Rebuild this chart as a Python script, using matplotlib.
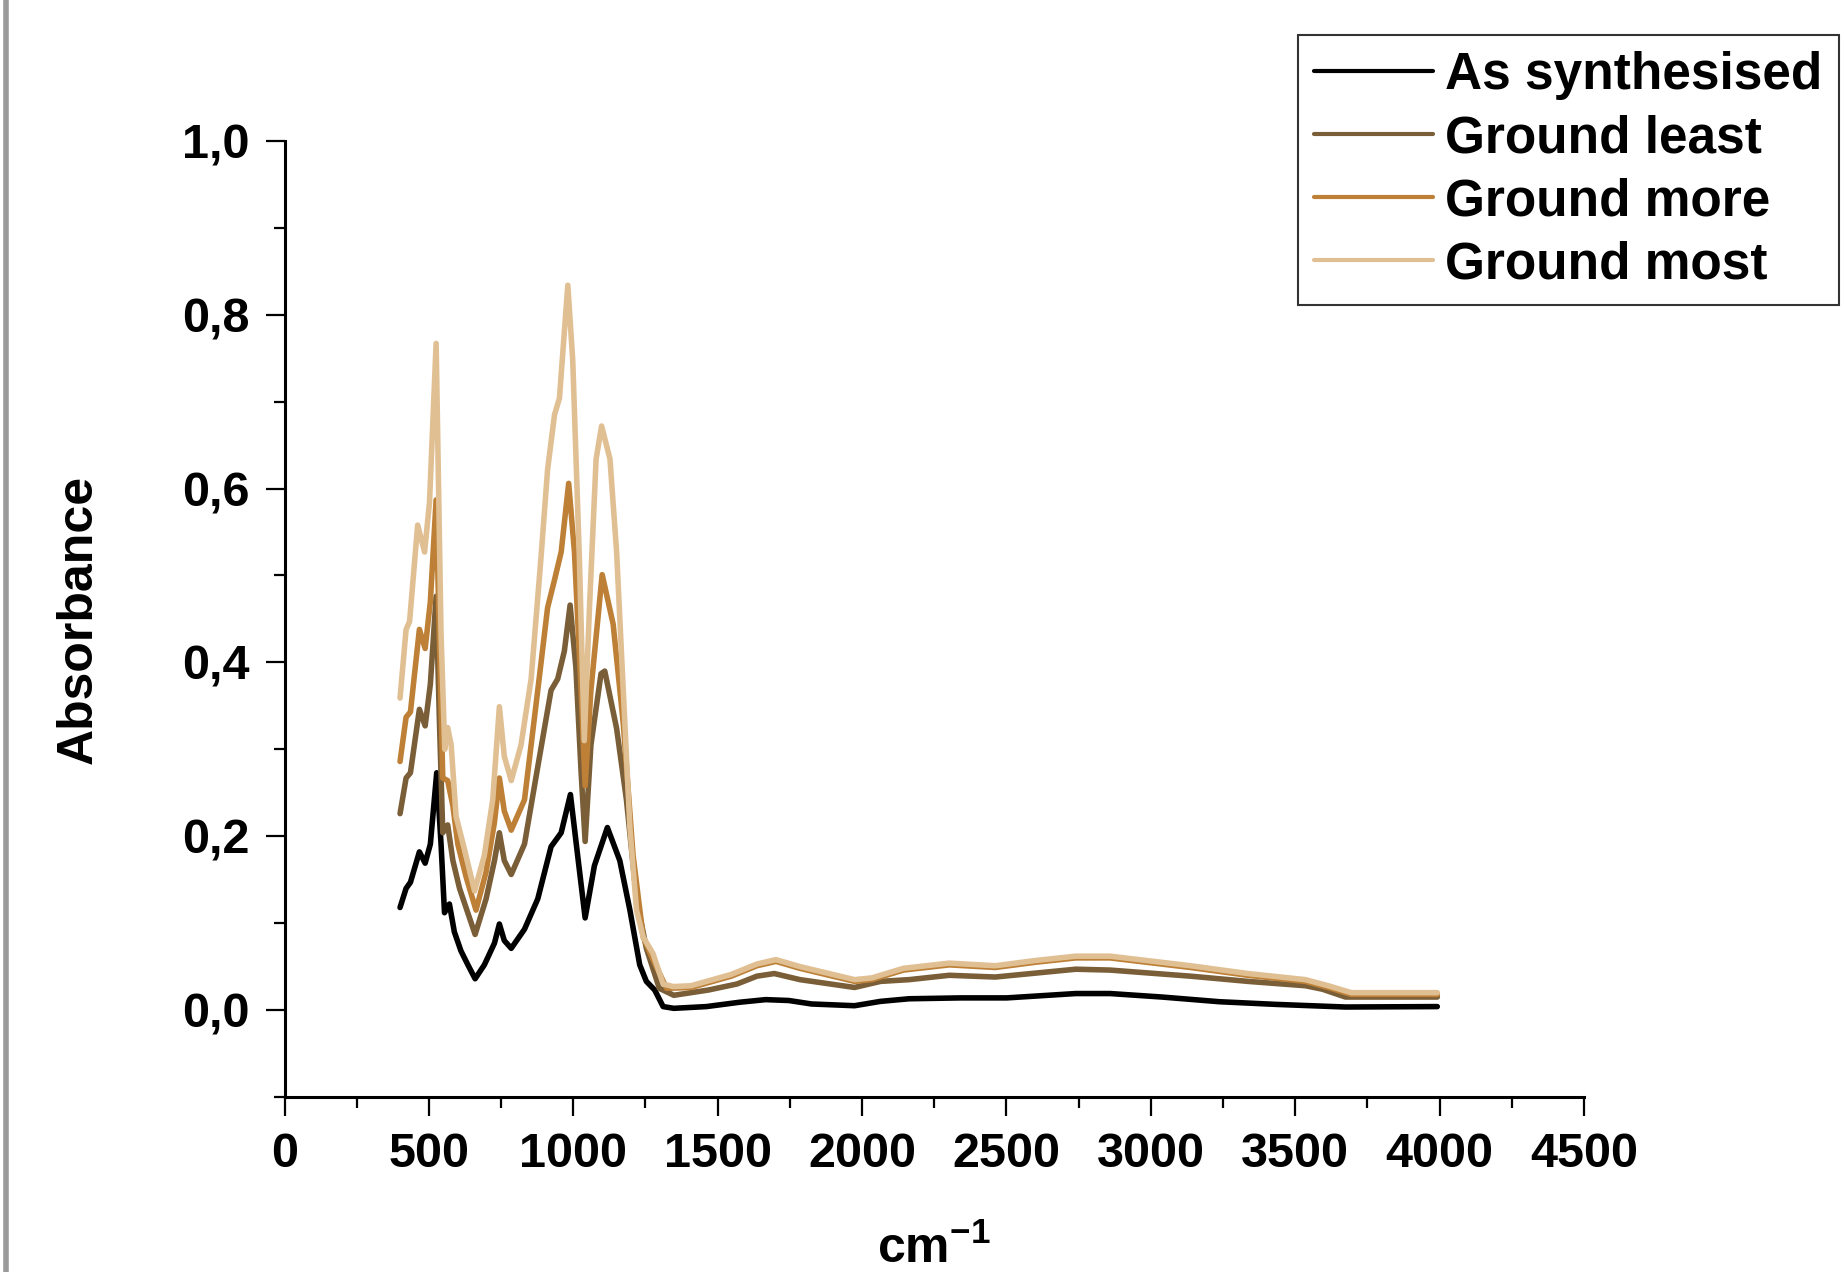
import matplotlib
matplotlib.use('Agg')
import matplotlib.pyplot as plt
from matplotlib.ticker import MultipleLocator, FuncFormatter
from matplotlib.lines import Line2D

plt.rcParams['font.family'] = ['Liberation Sans', 'DejaVu Sans']
plt.rcParams['font.weight'] = 'bold'
plt.rcParams['mathtext.default'] = 'regular'

# -----------------------
# Data
# -----------------------
labels = ['As synthesised', 'Ground least', 'Ground more', 'Ground most']
colors = ['#000000', '#7a5e38', '#bd8036', '#e0bf93']

x_as = [400, 421, 436, 467, 487, 505, 527, 542, 554, 571, 588, 611, 635, 660, 692, 727, 744, 761,
        785, 831, 877, 923, 958, 990, 1015, 1041, 1073, 1118, 1161, 1196, 1230, 1253, 1282, 1311,
        1348, 1461, 1507, 1576, 1666, 1746, 1825, 1974, 2064, 2163, 2342, 2501, 2740, 2859, 3038,
        3237, 3435, 3674, 3992]
y_as = [.118, .14, .147, .182, .169, .191, .273, .191, .112, .122, .09, .068, .052, .036, .052, .077,
        .099, .08, .071, .093, .128, .188, .204, .248, .178, .106, .166, .21, .172, .115, .052, .033,
        .023, .004, .002, .004, .006, .009, .012, .011, .007, .005, .010, .013, .014, .014, .019, .019,
        .015, .0096, .0065, .0035, .004]

x_least = [400, 421, 436, 467, 487, 505, 525, 536, 548, 565, 583, 606, 660, 698, 727, 744, 761, 785,
           831, 877, 923, 946, 969, 989, 1009, 1027, 1041, 1061, 1096, 1109, 1150, 1184, 1219, 1253,
           1298, 1348, 1467, 1567, 1636, 1696, 1785, 1974, 2064, 2163, 2302, 2461, 2740, 2859, 3137,
           3336, 3535, 3594, 3674, 3992]
y_least = [.226, .267, .273, .346, .327, .375, .476, .337, .204, .213, .172, .14, .087, .128, .172,
           .204, .172, .156, .191, .28, .368, .381, .413, .466, .394, .274, .194, .305, .387, .39,
           .324, .242, .128, .071, .025, .017, .023, .03, .039, .042, .035, .026, .033, .035, .04,
           .038, .047, .046, .039, .033, .028, .024, .015, .015]

x_more = [400, 421, 436, 467, 487, 505, 525, 536, 548, 565, 583, 600, 629, 663, 698, 727, 744, 761,
          785, 831, 877, 911, 935, 958, 984, 1004, 1027, 1041, 1061, 1100, 1138, 1173, 1207, 1242,
          1276, 1323, 1408, 1547, 1636, 1702, 1785, 1974, 2034, 2143, 2302, 2461, 2600, 2740, 2859,
          3137, 3336, 3535, 3614, 3694, 3992]
y_more = [.286, .337, .343, .438, .416, .47, .587, .432, .267, .264, .235, .191, .153, .115, .159,
          .216, .267, .229, .207, .242, .368, .463, .495, .527, .606, .527, .368, .258, .368, .501,
          .444, .33, .178, .084, .058, .025, .026, .039, .051, .056, .048, .033, .035, .046, .052,
          .049, .055, .060, .060, .049, .040, .033, .026, .018, .018]

x_most = [400, 421, 433, 461, 485, 502, 525, 542, 555, 565, 577, 594, 623, 658, 692, 721, 744, 761,
          785, 819, 854, 888, 911, 935, 952, 981, 998, 1021, 1038, 1056, 1079, 1098, 1127, 1150,
          1173, 1196, 1219, 1242, 1276, 1311, 1346, 1408, 1547, 1636, 1702, 1785, 1974, 2034, 2143,
          2302, 2461, 2600, 2740, 2859, 3137, 3336, 3535, 3614, 3694, 3992]
y_most = [.359, .438, .447, .558, .527, .584, .767, .432, .30, .325, .305, .223, .185, .137, .178,
          .242, .349, .292, .264, .305, .381, .52, .622, .685, .704, .834, .748, .52, .31, .463,
          .634, .672, .634, .527, .368, .21, .115, .084, .065, .030, .027, .028, .041, .053, .058,
          .05, .035, .037, .048, .054, .051, .057, .062, .062, .051, .042, .035, .028, .020, .020]

series_x = [x_as, x_least, x_more, x_most]
series_y = [y_as, y_least, y_more, y_most]

# -----------------------
# Figure
# -----------------------
fig = plt.figure(figsize=(18.44, 12.72), dpi=100)
ax = fig.add_axes([0.1543, 0.1376, 0.7047, 0.7516])

for xs, ys, c, lab in zip(series_x, series_y, colors, labels):
    ax.plot(xs, ys, color=c, lw=4.0, label=lab, solid_joinstyle='round', solid_capstyle='round')

ax.set_xlim(0, 4500)
ax.set_ylim(-0.1, 1.0)
ax.xaxis.set_major_locator(MultipleLocator(500))
ax.xaxis.set_minor_locator(MultipleLocator(250))
ax.yaxis.set_major_locator(MultipleLocator(0.2))
ax.yaxis.set_minor_locator(MultipleLocator(0.1))
ax.yaxis.set_major_formatter(FuncFormatter(lambda v, p: f'{v:.1f}'.replace('.', ',').replace('-0,0', '0,0')))

for side in ['top', 'right']:
    ax.spines[side].set_visible(False)
for side in ['left', 'bottom']:
    ax.spines[side].set_linewidth(2.2)

ax.tick_params(which='major', direction='out', length=14, width=1.6, labelsize=35, pad=11)
ax.tick_params(which='minor', direction='out', length=8, width=1.6)
for t in ax.get_xticklabels() + ax.get_yticklabels():
    t.set_fontweight('bold')

ax.set_xlabel(r'$cm^{-1}$', fontsize=36, fontweight='bold', labelpad=35)
ax.set_ylabel('Absorbance', fontsize=36, fontweight='bold', labelpad=58)

leg = fig.legend(loc='upper left', bbox_to_anchor=(0.7039, 0.9725), borderaxespad=0,
                 handlelength=2.3, handletextpad=0.25, labelspacing=0.27,
                 borderpad=0.32, fancybox=False, frameon=True, edgecolor='black',
                 prop={'weight': 'bold', 'size': 37})
leg.get_frame().set_linewidth(1.5)
for h in leg.get_lines():
    h.set_linewidth(3.0)

# gray bar at the left edge of the image
fig.add_artist(Line2D([0.003, 0.003], [0, 1], transform=fig.transFigure, color='#9a9a9a', lw=4))

fig.savefig('out.png', dpi=100)
